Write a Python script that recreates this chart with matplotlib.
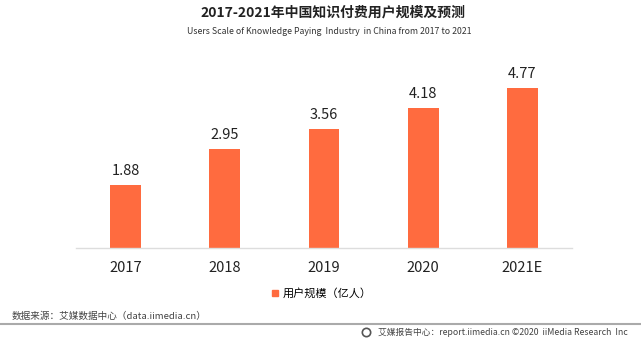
import matplotlib
matplotlib.use("Agg")
import matplotlib.pyplot as plt
from matplotlib.lines import Line2D

plt.rcParams['font.family'] = ['Noto Sans CJK SC', 'DejaVu Sans']

years = ["2017", "2018", "2019", "2020", "2021E"]
users = [1.88, 2.95, 3.56, 4.18, 4.77]
bar_color = "#FF6B3F"

fig = plt.figure(figsize=(6.41, 3.39), dpi=100)
ax = fig.add_axes([76 / 641, 91 / 339, 496 / 641, 184 / 339])

x = range(len(years))
bars = ax.bar(x, users, width=0.31, color=bar_color, label="用户规模（亿人）")
for xi, v in zip(x, users):
    ax.text(xi, v + 0.22, f"{v:.2f}", ha="center", va="bottom", fontsize=10.5, color="#222222")

ax.set_xlim(-0.5, 4.5)
ax.set_ylim(0, 5.5)
ax.set_xticks(list(x))
ax.set_xticklabels(years, fontsize=10.5, color="#222222")
ax.tick_params(axis="x", length=0, pad=9)
ax.set_yticks([])
for side in ["left", "right", "top"]:
    ax.spines[side].set_visible(False)
ax.spines["bottom"].set_color("#dddddd")
ax.spines["bottom"].set_linewidth(1)

fig.text(333 / 641, 1 - 13 / 339, "2017-2021年中国知识付费用户规模及预测", ha="center", va="center",
         fontsize=10, fontweight="bold", color="#222222")
fig.text(329.5 / 641, 1 - 31 / 339, "Users Scale of Knowledge Paying  Industry  in China from 2017 to 2021",
         ha="center", va="center", fontsize=6.3, color="#333333")

fig.legend(handles=[Line2D([], [], marker="s", color=bar_color, linestyle="none", markersize=5)],
           labels=["用户规模（亿人）"], loc="center", bbox_to_anchor=(0.5, 1 - 293 / 339),
           frameon=False, fontsize=8, handletextpad=0.2, handlelength=1)

fig.text(12 / 641, 1 - 316 / 339, "数据来源：艾媒数据中心（data.iimedia.cn）", ha="left", va="center",
         fontsize=6.9, color="#444444")
fig.add_artist(Line2D([0, 1], [1 - 324 / 339, 1 - 324 / 339], color="#aaaaaa", linewidth=1.5))
fig.add_artist(Line2D([366 / 641], [1 - 332 / 339], marker="o", markersize=6, markerfacecolor="white",
                      markeredgecolor="#555555", markeredgewidth=1.2, linestyle="none"))
fig.text(628 / 641, 1 - 332 / 339, "艾媒报告中心：report.iimedia.cn ©2020  iiMedia Research  Inc",
         ha="right", va="center", fontsize=6.3, color="#444444")

fig.savefig("out.png", dpi=100)
